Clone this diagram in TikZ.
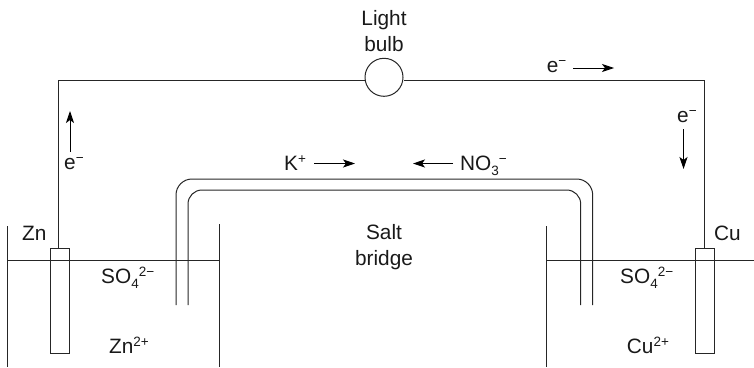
\documentclass[tikz,border=0pt]{standalone}
\usepackage{fontspec}
\setmainfont{Liberation Sans}
\usetikzlibrary{arrows.meta}
\newcommand{\supp}[1]{\raisebox{7pt}{\fontsize{13.5}{13.5}\selectfont #1}}
\newcommand{\subb}[1]{\raisebox{-5pt}{\fontsize{13.5}{13.5}\selectfont #1}}
\tikzset{
  x=1pt,y=-1pt,
  line/.style={draw=black!85,line width=1pt},
  flow/.style={draw=black,line width=0.9pt,-{Stealth[length=12pt,width=8pt,inset=3pt]}},
  lab/.style={inner sep=0pt,anchor=base west,font=\fontsize{20.8}{24}\selectfont,text=black!90},
  clab/.style={inner sep=0pt,anchor=base,font=\fontsize{20.8}{24}\selectfont,text=black!90},
  electrode/.style={line,minimum width=19pt,minimum height=105.5pt,inner sep=0pt,rectangle},
  bulbc/.style={line,circle,minimum size=38pt,inner sep=0pt}
}
\begin{document}
\begin{tikzpicture}
\useasboundingbox (0,0) rectangle (754,367);
% beakers
\coordinate (lbl) at (7.5,226); \coordinate (lbb) at (7.5,367);
\coordinate (lrt) at (219,224); \coordinate (lrb) at (219,367);
\coordinate (rlt) at (546,226); \coordinate (rlb) at (546,367);
\coordinate (lw1) at (7.5,260); \coordinate (lw2) at (219,260);
\coordinate (rw1) at (546,260); \coordinate (rw2) at (754,260);
\draw[line] (lbl) -- (lbb);
\draw[line] (lrt) -- (lrb);
\draw[line] (rlt) -- (rlb);
\draw[line] (lw1) -- (lw2);
\draw[line] (rw1) -- (rw2);
% electrodes
\node[electrode] (zn) at (59.5,300.75) {};
\node[electrode] (cu) at (704.5,300.75) {};
% bulb and wire
\node[bulbc] (bulb) at (384,77.3) {};
\coordinate (tl) at (58.5,80);
\coordinate (tr) at (704.5,80);
\coordinate (bl) at (bulb.west |- tl);
\coordinate (br) at (bulb.east |- tl);
\coordinate (znt) at (58.5,248);
\coordinate (cut) at (704.5,248);
\draw[line] (znt) -- (tl) -- (bl);
\draw[line] (cut) -- (tr) -- (br);
% salt bridge
\coordinate (ol) at (176,305); \coordinate (ort) at (592.7,305);
\coordinate (il) at (188,305); \coordinate (irt) at (580.7,305);
\draw[line,rounded corners=16pt] (ol) -- (176,179) -- (592.7,179) -- (ort);
\draw[line,rounded corners=14pt] (il) -- (188,190) -- (580.7,190) -- (irt);
% arrows
\coordinate (a1) at (70,152); \coordinate (a2) at (70,111);
\coordinate (b1) at (683.5,129); \coordinate (b2) at (683.5,169);
\coordinate (c1) at (573,68); \coordinate (c2) at (614,68);
\coordinate (d1) at (314,163.5); \coordinate (d2) at (355,163.5);
\coordinate (e1) at (453,163.5); \coordinate (e2) at (413,163.5);
\draw[flow] (a1) -- (a2);
\draw[flow] (b1) -- (b2);
\draw[flow] (c1) -- (c2);
\draw[flow] (d1) -- (d2);
\draw[flow] (e1) -- (e2);
% labels
\node[clab] (light) at (384,25) {Light};
\node[clab] (bulbl) at (384,51.7) {bulb};
\node[lab] (etop) at (546.7,72.7) {e\supp{−}};
\node[lab] (eleft) at (64,169.3) {e\supp{−}};
\node[lab] (eright) at (677,122.7) {e\supp{−}};
\node[lab] (kp) at (284,170.7) {K\supp{+}};
\node[lab] (no) at (460,170.7) {NO\subb{3}\supp{−}};
\node[lab] (znl) at (22,240.7) {Zn};
\node[lab] (cul) at (714,240.7) {Cu};
\node[lab] (so1) at (101,283) {SO\subb{4}\supp{2−}};
\node[lab] (so2) at (620,283) {SO\subb{4}\supp{2−}};
\node[lab] (zni) at (109,353) {Zn\supp{2+}};
\node[lab] (cui) at (626.7,353) {Cu\supp{2+}};
\node[clab] (salt) at (384,239) {Salt};
\node[clab] (bridge) at (384,265.7) {bridge};
\end{tikzpicture}
\end{document}
